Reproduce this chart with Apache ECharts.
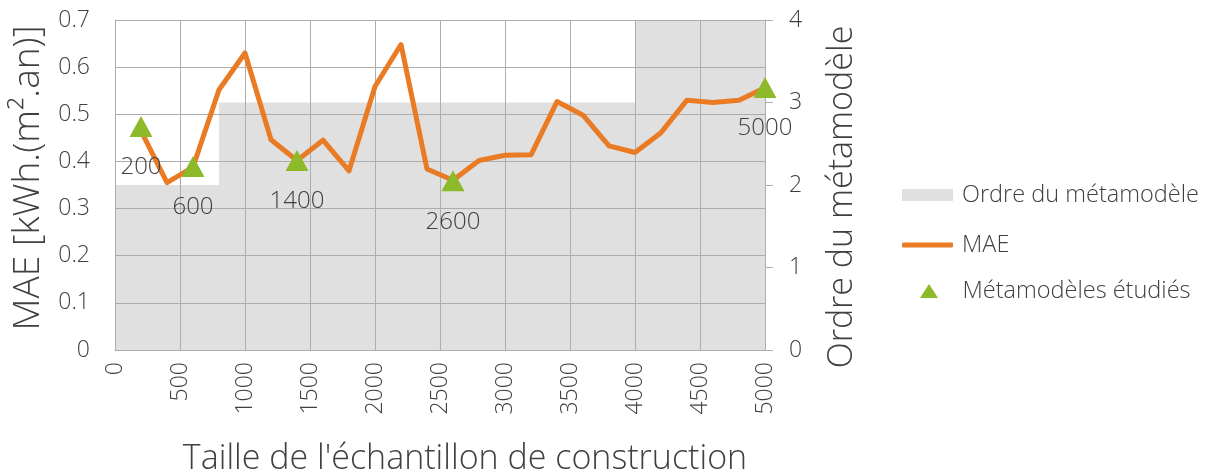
<!DOCTYPE html>
<html>
<head>
<meta charset="utf-8">
<script src="https://cdn.jsdelivr.net/npm/echarts@6/dist/echarts.min.js"></script>
<style>
  html, body { margin: 0; padding: 0; background: #ffffff; }
  #chart { width: 1207px; height: 474px; }
</style>
</head>
<body>
<div id="chart"></div>
<script>
// Sample sizes and mean absolute error for each metamodel
const sampleSizes = [200, 400, 600, 800, 1000, 1200, 1400, 1600, 1800, 2000, 2200, 2400, 2600,
                     2800, 3000, 3200, 3400, 3600, 3800, 4000, 4200, 4400, 4600, 4800, 5000];
const maeValues = [0.465, 0.355, 0.388, 0.552, 0.630, 0.446, 0.402, 0.445, 0.380, 0.559, 0.648, 0.384, 0.360,
                   0.402, 0.413, 0.414, 0.527, 0.498, 0.433, 0.419, 0.461, 0.530, 0.525, 0.530, 0.556];

// Metamodels retained for study
const studiedSizes = [200, 600, 1400, 2600, 5000];
const studiedMae = [0.474, 0.389, 0.402, 0.359, 0.557];

// Metamodel order (right axis), as steps starting at each breakpoint
const orderBreaks = [0, 800, 4000, 5000];
const orderValues = [2, 3, 4, 4];

// Axis ticks
const xTicks = [0, 500, 1000, 1500, 2000, 2500, 3000, 3500, 4000, 4500, 5000];
const maeTicks = [0, 0.1, 0.2, 0.3, 0.4, 0.5, 0.6, 0.7];
const orderTicks = [0, 1, 2, 3, 4];

const FONT = '"Open Sans", "DejaVu Sans", sans-serif';
const TEXT = '#404040';
const GRID = '#adadad';

// Legend triangle padded with empty anchor points so it keeps its shape in a wide legend slot
const TRIANGLE_ICON = 'path://M-16,7L-16,7M0,14L9,0L18,14ZM34,7L34,7';

const chart = echarts.init(document.getElementById('chart'), null, { renderer: 'canvas' });

const orderData = orderBreaks.map((x, i) => [x, orderValues[i]]);
const maeData = sampleSizes.map((x, i) => [x, maeValues[i]]);
const studiedData = studiedSizes.map((x, i) => [x, studiedMae[i]]);

const legendText = (padLeft) => ({
  fontFamily: FONT, fontWeight: 300, fontSize: 23.5, color: TEXT, padding: [0, 0, 0, padLeft]
});

chart.setOption({
  animation: false,
  textStyle: { fontFamily: FONT, fontWeight: 300, color: TEXT },
  grid: { left: 115, right: 442, top: 20, bottom: 124, show: false, outerBoundsMode: 'none', containLabel: false },
  legend: [
    {
      data: ['Ordre du métamodèle'],
      left: 902, top: 183, padding: 0,
      itemWidth: 51, itemHeight: 12,
      icon: 'rect',
      textStyle: legendText(4)
    },
    {
      data: ['MAE'],
      left: 902, top: 233, padding: 0,
      itemWidth: 51, itemHeight: 5,
      icon: 'roundRect',
      textStyle: legendText(4)
    },
    {
      data: ['Métamodèles étudiés'],
      left: 904, top: 279, padding: 0,
      itemWidth: 51, itemHeight: 14,
      icon: TRIANGLE_ICON,
      textStyle: legendText(3)
    }
  ],
  xAxis: {
    type: 'value',
    min: xTicks[0], max: xTicks[xTicks.length - 1], interval: xTicks[1] - xTicks[0],
    z: 1,
    name: "Taille de l'échantillon de construction",
    nameLocation: 'middle',
    nameGap: 92,
    nameTextStyle: { fontFamily: FONT, fontWeight: 300, fontSize: 34, color: TEXT, padding: [0, 0, 0, 50] },
    axisLine: { show: true, lineStyle: { color: GRID, width: 1 } },
    axisTick: { show: false },
    axisLabel: {
      rotate: 90, margin: 12, fontSize: 23, color: TEXT, fontFamily: FONT, fontWeight: 300,
      formatter: v => String(v)
    },
    splitLine: { show: true, lineStyle: { color: GRID, width: 1 } }
  },
  yAxis: [
    {
      type: 'value',
      min: maeTicks[0], max: maeTicks[maeTicks.length - 1], interval: 0.1,
      z: 1,
      name: 'MAE [kWh.(m².an)]',
      nameLocation: 'middle',
      nameRotate: 90,
      nameGap: 66,
      nameTextStyle: { fontFamily: FONT, fontWeight: 300, fontSize: 37, color: TEXT, padding: [0, 0, 0, 14] },
      axisLine: { show: true, lineStyle: { color: GRID, width: 1 } },
      axisTick: { show: false },
      axisLabel: { margin: 25, fontSize: 23, color: TEXT, fontFamily: FONT, fontWeight: 300 },
      splitLine: { show: true, lineStyle: { color: GRID, width: 1 } }
    },
    {
      type: 'value',
      position: 'right',
      min: orderTicks[0], max: orderTicks[orderTicks.length - 1], interval: 1,
      z: 1,
      name: 'Ordre du métamodèle',
      nameLocation: 'middle',
      nameRotate: 90,
      nameGap: 60,
      nameTextStyle: { fontFamily: FONT, fontWeight: 300, fontSize: 34, color: TEXT, padding: [0, 24, 0, 0] },
      axisLine: { show: true, lineStyle: { color: GRID, width: 1 } },
      axisTick: { show: true, inside: false, length: 8, lineStyle: { color: GRID } },
      axisLabel: { margin: 24, fontSize: 23, color: TEXT, fontFamily: FONT, fontWeight: 300 },
      splitLine: { show: false }
    }
  ],
  series: [
    {
      name: 'Ordre du métamodèle',
      type: 'line',
      yAxisIndex: 1,
      step: 'end',
      data: orderData,
      showSymbol: false,
      z: 0,
      lineStyle: { width: 0 },
      itemStyle: { color: '#e0e0e0' },
      areaStyle: { color: '#e0e0e0', opacity: 1 },
      silent: true
    },
    {
      name: 'MAE',
      type: 'line',
      yAxisIndex: 0,
      data: maeData,
      showSymbol: false,
      z: 3,
      itemStyle: { color: '#e97b25' },
      lineStyle: { color: '#e97b25', width: 5, join: 'round', cap: 'round' }
    },
    {
      name: 'Métamodèles étudiés',
      type: 'scatter',
      yAxisIndex: 0,
      data: studiedData,
      symbol: 'triangle',
      symbolSize: [23, 21],
      z: 4,
      itemStyle: { color: '#8cba28', opacity: 1 },
      label: {
        show: true,
        position: 'inside',
        offset: [0, 41],
        formatter: p => String(p.value[0]),
        fontFamily: FONT, fontWeight: 300, fontSize: 24, color: TEXT
      }
    }
  ]
});
</script>
</body>
</html>
